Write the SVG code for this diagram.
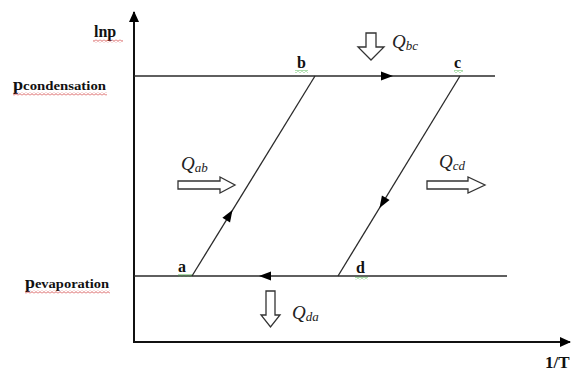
<svg xmlns="http://www.w3.org/2000/svg" width="572" height="374" viewBox="0 0 572 374">
  <defs>
    <style>
      .axis { stroke: #111; stroke-width: 2; fill: none; }
      .line { stroke: #2a2a2a; stroke-width: 1.3; fill: none; }
      .lbl { font-family: "Liberation Serif", "Times New Roman", serif; fill: #111; }
      .pt { font-size: 16px; font-weight: bold; }
      .ax { font-size: 16px; font-weight: bold; }
      .pl { font-size: 13px; font-weight: bold; }
      .q { font-family: "Liberation Serif", serif; font-style: italic; fill: #222; font-size: 19px; }
      .qs { font-size: 13px; }
      .hollow { fill: #fff; stroke: #333; stroke-width: 1.3; stroke-linejoin: miter; }
    </style>
    <marker id="axhead" markerWidth="12" markerHeight="10" refX="10" refY="5" orient="auto" markerUnits="userSpaceOnUse">
      <path d="M0,0 L11,5 L0,10 Z" fill="#000"/>
    </marker>
    <pattern id="redwave" width="4" height="3" patternUnits="userSpaceOnUse">
      <path d="M0 0.6 L2 2.4 L4 0.6" stroke="#d04040" stroke-width="0.8" fill="none"/>
    </pattern>
    <pattern id="greenwave" width="4" height="3" patternUnits="userSpaceOnUse">
      <path d="M0 0.6 L2 2.4 L4 0.6" stroke="#40b040" stroke-width="0.8" fill="none"/>
    </pattern>
  </defs>
  <rect width="572" height="374" fill="#fff"/>

  <g id="axes">
    <line class="axis" x1="134" y1="342" x2="134" y2="12" marker-end="url(#axhead)"/>
    <line class="axis" x1="133" y1="342" x2="570" y2="342" marker-end="url(#axhead)"/>
  </g>

  <g id="connectors">
    <line class="line" x1="134" y1="76" x2="495" y2="76"/>
    <line class="line" x1="134" y1="276" x2="507" y2="276"/>
    <line class="line" x1="192" y1="276" x2="315" y2="76"/>
    <line class="line" x1="460" y1="76" x2="338" y2="276"/>
    <path d="M393,76 L381,71.5 L381,80.5 Z" fill="#000"/>
    <path d="M259,276 L271,271.5 L271,280.5 Z" fill="#000"/>
    <g transform="translate(232.5,210) rotate(-58.4)">
      <path d="M0,0 L-12,-4.5 L-12,4.5 Z" fill="#000"/>
    </g>
    <g transform="translate(379.5,208) rotate(121.4)">
      <path d="M0,0 L-12,-4.5 L-12,4.5 Z" fill="#000"/>
    </g>
  </g>

  <g id="axis-labels">
    <text class="lbl ax" x="94" y="37">lnp</text>
    <rect x="93" y="39.5" width="30" height="3" fill="url(#redwave)"/>
    <text class="lbl" x="545" y="368" font-size="17" font-weight="bold">1/T</text>
  </g>

  <g id="p-condensation">
    <text class="lbl pl" x="13" y="90" textLength="93" lengthAdjust="spacingAndGlyphs"><tspan font-size="16">p</tspan>condensation</text>
    <rect x="13" y="92.5" width="94" height="3" fill="url(#redwave)"/>
  </g>
  <g id="p-evaporation">
    <text class="lbl pl" x="25" y="288" textLength="84" lengthAdjust="spacingAndGlyphs"><tspan font-size="16">p</tspan>evaporation</text>
    <rect x="25" y="290.5" width="85" height="3" fill="url(#redwave)"/>
  </g>

  <g id="node-a">
    <text class="lbl pt" x="178" y="272">a</text>
    <rect x="178" y="274" width="14" height="3" fill="url(#greenwave)"/>
  </g>
  <g id="node-b">
    <text class="lbl pt" x="297" y="68">b</text>
    <rect x="295" y="70" width="13" height="3" fill="url(#greenwave)"/>
  </g>
  <g id="node-c">
    <text class="lbl pt" x="454" y="68">c</text>
    <rect x="454" y="70" width="9" height="3" fill="url(#greenwave)"/>
  </g>
  <g id="node-d">
    <text class="lbl pt" x="356" y="273">d</text>
    <rect x="355" y="276.5" width="13" height="3" fill="url(#greenwave)"/>
  </g>

  <g id="Q-bc">
    <path class="hollow" d="M366,33 L376,33 L376,47 L384,47 L371,60 L358,47 L366,47 Z"/>
    <text class="q" x="392" y="48">Q<tspan class="qs" dy="2">bc</tspan></text>
  </g>
  <g id="Q-ab">
    <path class="hollow" d="M178,181 L220,181 L220,177 L235,185 L220,193 L220,189 L178,189 Z"/>
    <text class="q" x="181" y="170">Q<tspan class="qs" dy="2">ab</tspan></text>
  </g>
  <g id="Q-cd">
    <path class="hollow" d="M427,181 L468,181 L468,177 L485,185 L468,193 L468,189 L427,189 Z"/>
    <text class="q" x="439" y="168">Q<tspan class="qs" dy="2">cd</tspan></text>
  </g>
  <g id="Q-da">
    <path class="hollow" d="M266,291 L275,291 L275,315 L280,315 L270.5,327 L261,315 L266,315 Z"/>
    <text class="q" x="292" y="319">Q<tspan class="qs" dy="2">da</tspan></text>
  </g>
</svg>
